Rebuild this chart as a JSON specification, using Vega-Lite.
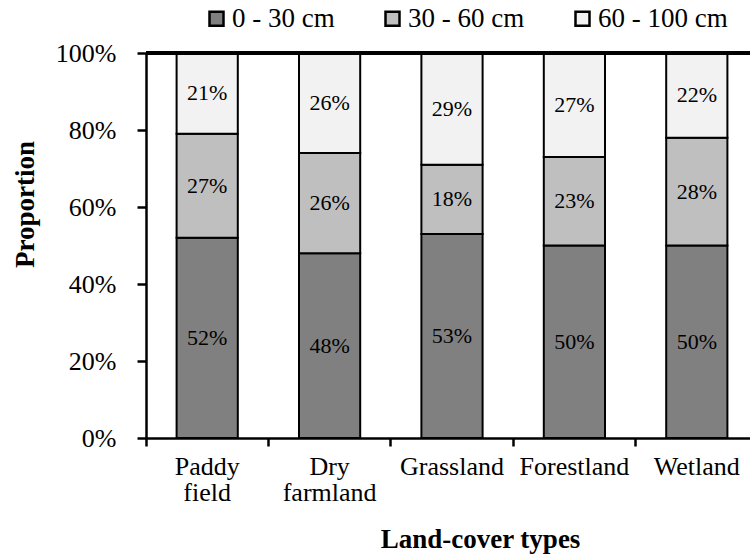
{
  "$schema": "https://vega.github.io/schema/vega-lite/v6.json",
  "width": 604,
  "height": 385,
  "autosize": {"type": "none"},
  "padding": {"left": 146, "top": 53, "right": 0, "bottom": 118},
  "background": "white",
  "config": {
    "font": "Liberation Serif",
    "view": {"stroke": null},
    "axis": {"labelColor": "black", "titleColor": "black", "domainColor": "black", "tickColor": "black", "grid": false}
  },
  "data": {
    "values": [
      {"type": "Paddy field", "layer": "0 - 30 cm", "value": 0.52},
      {"type": "Paddy field", "layer": "30 - 60 cm", "value": 0.27},
      {"type": "Paddy field", "layer": "60 - 100 cm", "value": 0.21},
      {"type": "Dry farmland", "layer": "0 - 30 cm", "value": 0.48},
      {"type": "Dry farmland", "layer": "30 - 60 cm", "value": 0.26},
      {"type": "Dry farmland", "layer": "60 - 100 cm", "value": 0.26},
      {"type": "Grassland", "layer": "0 - 30 cm", "value": 0.53},
      {"type": "Grassland", "layer": "30 - 60 cm", "value": 0.18},
      {"type": "Grassland", "layer": "60 - 100 cm", "value": 0.29},
      {"type": "Forestland", "layer": "0 - 30 cm", "value": 0.50},
      {"type": "Forestland", "layer": "30 - 60 cm", "value": 0.23},
      {"type": "Forestland", "layer": "60 - 100 cm", "value": 0.27},
      {"type": "Wetland", "layer": "0 - 30 cm", "value": 0.50},
      {"type": "Wetland", "layer": "30 - 60 cm", "value": 0.28},
      {"type": "Wetland", "layer": "60 - 100 cm", "value": 0.22}
    ]
  },
  "layer": [
    {
      "mark": {"type": "bar", "width": {"band": 0.5}, "stroke": "black", "strokeWidth": 2},
      "encoding": {
        "x": {
          "field": "type",
          "type": "nominal",
          "sort": ["Paddy field", "Dry farmland", "Grassland", "Forestland", "Wetland"],
          "scale": {"paddingInner": 0, "paddingOuter": 0, "range": [0, 612]},
          "axis": {
            "title": "Land-cover types",
            "titleFont": "Liberation Serif",
            "titleFontSize": 27,
            "titleFontWeight": "bold",
            "titleX": 334,
            "titleY": 109,
            "titleBaseline": "alphabetic",
            "titleAnchor": null,
            "titleAlign": "center",
            "labelFont": "Liberation Serif",
            "labelFontSize": 26,
            "labelAngle": 0,
            "labelLineHeight": 26,
            "labelExpr": "datum.value == 'Paddy field' ? ['Paddy', 'field'] : datum.value == 'Dry farmland' ? ['Dry', 'farmland'] : datum.value",
            "bandPosition": 0,
            "labelOffset": 0,
            "labelPadding": 7,
            "tickSize": 8,
            "tickWidth": 2.5,
            "domainWidth": 2.5
          }
        },
        "y": {
          "field": "value",
          "type": "quantitative",
          "stack": "zero",
          "scale": {"domain": [0, 1], "nice": false},
          "axis": {
            "title": "Proportion",
            "titleFont": "Liberation Serif",
            "titleFontSize": 27,
            "titleFontWeight": "bold",
            "titleX": -113,
            "titleY": 151,
            "titleAngle": -90,
            "titleBaseline": "alphabetic",
            "titleAlign": "center",
            "titleAnchor": null,
            "values": [0, 0.2, 0.4, 0.6, 0.8, 1],
            "format": ".0%",
            "labelFont": "Liberation Serif",
            "labelFontSize": 26,
            "labelPadding": 21,
            "tickSize": 9,
            "tickWidth": 2.5,
            "domainWidth": 2.5
          }
        },
        "order": {"field": "layer", "type": "nominal", "sort": "ascending"},
        "color": {
          "field": "layer",
          "type": "nominal",
          "scale": {"domain": ["0 - 30 cm", "30 - 60 cm", "60 - 100 cm"], "range": ["#808080", "#bfbfbf", "#f2f2f2"]},
          "legend": {
            "title": null,
            "orient": "none",
            "direction": "horizontal",
            "legendX": 57,
            "legendY": -48,
            "padding": 0,
            "symbolType": "square",
            "symbolSize": 196,
            "symbolStrokeColor": "black",
            "symbolStrokeWidth": 2.5,
            "labelFont": "Liberation Serif",
            "labelFontSize": 27,
            "labelColor": "black",
            "labelOffset": 2,
            "columnPadding": 44
          }
        }
      }
    },
    {
      "mark": {"type": "text", "font": "Liberation Serif", "fontSize": 22, "color": "black"},
      "encoding": {
        "x": {"field": "type", "type": "nominal", "sort": ["Paddy field", "Dry farmland", "Grassland", "Forestland", "Wetland"]},
        "y": {"field": "value", "type": "quantitative", "stack": "zero", "bandPosition": 0.5},
        "detail": {"field": "layer", "type": "nominal"},
        "order": {"field": "layer", "type": "nominal", "sort": "ascending"},
        "text": {"field": "value", "type": "quantitative", "format": ".0%"}
      }
    },
    {
      "mark": {"type": "rule", "color": "black", "strokeWidth": 3},
      "encoding": {"y": {"datum": 1}}
    }
  ]
}
